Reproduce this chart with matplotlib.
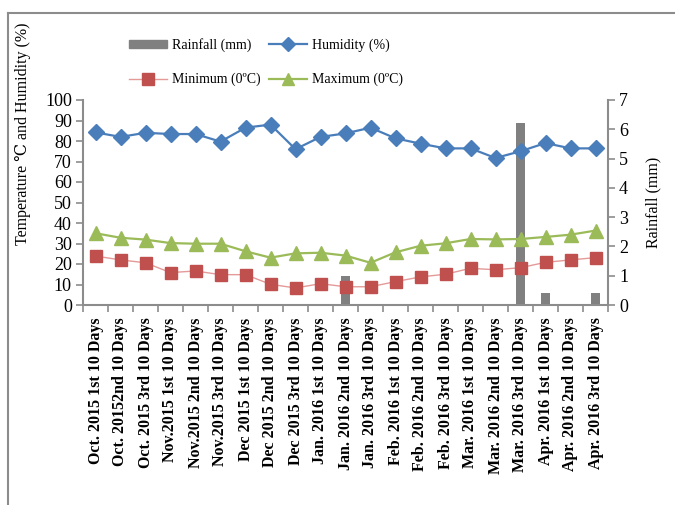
import matplotlib
matplotlib.use("Agg")
import matplotlib.pyplot as plt
from matplotlib.lines import Line2D
import numpy as np

categories = ["Oct. 2015 1st 10 Days", "Oct. 20152nd 10 Days", "Oct. 2015 3rd 10 Days",
              "Nov.2015 1st 10 Days", "Nov.2015 2nd 10 Days", "Nov.2015 3rd 10 Days",
              "Dec 2015 1st 10 Days", "Dec 2015 2nd 10 Days", "Dec 2015 3rd 10 Days",
              "Jan. 2016 1st 10 Days", "Jan. 2016 2nd 10 Days", "Jan. 2016 3rd 10 Days",
              "Feb. 2016 1st 10 Days", "Feb. 2016 2nd 10 Days", "Feb. 2016 3rd 10 Days",
              "Mar. 2016 1st 10 Days", "Mar. 2016 2nd 10 Days", "Mar. 2016 3rd 10 Days",
              "Apr. 2016 1st 10 Days", "Apr. 2016 2nd 10 Days", "Apr. 2016 3rd 10 Days"]
humidity = [84.2, 82, 84, 83.4, 83.4, 79.7, 86.5, 88, 76, 82, 83.7,
            86.5, 81.3, 78.7, 76.4, 76.4, 71.7, 75, 79, 76.4, 76.4]
maximum = [35, 32.8, 31.9, 30.2, 29.9, 29.9, 26.2, 23.1, 25.2, 25.5, 24.1,
           20.6, 25.7, 28.9, 30.1, 32.2, 32.0, 32.2, 33.2, 34.3, 36.3]
minimum = [23.9, 22, 20.6, 15.8, 16.6, 14.8, 14.8, 10.1, 8.3, 10.4, 8.9,
           8.9, 11.4, 13.7, 15, 17.9, 17.2, 18.2, 20.8, 22, 23.1]
rainfall = [0, 0, 0, 0, 0, 0, 0, 0, 0, 0, 1.0,
            0, 0, 0, 0, 0, 0, 6.2, 0.4, 0, 0.4]

serif = ["Liberation Serif", "DejaVu Serif"]
plt.rcParams["font.family"] = serif

fig = plt.figure(figsize=(6.75, 5.05), dpi=100)
ax = fig.add_axes([83/675, 1-305/505, 525/675, 205/505])
ax2 = ax.twinx()

x = np.arange(len(categories))
spine_c = "#8c8c8c"

ax2.bar(x, rainfall, width=0.38, color="#808080", zorder=1)
ax2.set_ylim(0, 7)
ax2.set_yticks(range(0, 8))

ax.set_zorder(ax2.get_zorder() + 1)
ax.patch.set_visible(False)

ax.plot(x, humidity, color="#4A7EBB", lw=1.6, marker="D", ms=8.5,
        mfc="#4A7EBB", mec="#4A7EBB")
ax.plot(x, minimum, color="#E39A98", lw=1.0, marker="s", ms=8,
        mfc="#C0504D", mec="#C0504D")
ax.plot(x, maximum, color="#9BBB59", lw=1.6, marker="^", ms=10,
        mfc="#9BBB59", mec="#9BBB59")

ax.set_xlim(-0.5, len(categories) - 0.5)
ax.set_ylim(0, 100)
ax.set_yticks(range(0, 101, 10))

ax.set_xticks(x)
ax.set_xticklabels(categories, rotation=90, fontweight="bold", fontsize=11.5)
ax.tick_params(axis="x", which="major", length=0, pad=9)
ax.set_xticks(np.arange(-0.5, len(categories), 1), minor=True)
ax.tick_params(axis="x", which="minor", length=5, color=spine_c, width=1.2)
ax.tick_params(axis="y", length=5, color=spine_c, width=1.2, labelsize=13, pad=3)
ax2.tick_params(axis="y", length=5, color=spine_c, width=1.2, labelsize=13, pad=3)

for a in (ax, ax2):
    a.spines["top"].set_visible(False)
    for s in ("left", "right", "bottom"):
        a.spines[s].set_color(spine_c)
        a.spines[s].set_linewidth(1.5)
ax.spines["right"].set_visible(False)
ax2.spines["left"].set_visible(False)
ax2.spines["bottom"].set_visible(False)

ax.set_ylabel("Temperature \u2103 and Humidity (%)", fontsize=11.5)
ax.yaxis.set_label_coords(-52/525, (305-134)/205)
ax2.set_ylabel("Rainfall (mm)", fontsize=11.5)
ax2.yaxis.set_label_coords(1 + 37/525, 0.5)

handles = [
    plt.Rectangle((0, 0), 1, 1, color="#808080"),
    Line2D([], [], color="#E39A98", lw=1.0, marker="s", ms=8, mfc="#C0504D", mec="#C0504D"),
    Line2D([], [], color="#4A7EBB", lw=1.6, marker="D", ms=7, mfc="#4A7EBB", mec="#4A7EBB"),
    Line2D([], [], color="#9BBB59", lw=1.6, marker="^", ms=9, mfc="#9BBB59", mec="#9BBB59"),
]
labels = ["Rainfall (mm)", "Minimum (0\u00baC)", "Humidity (%)", "Maximum (0\u00baC)"]
leg = fig.legend(handles, labels, ncol=2, loc="center", bbox_to_anchor=(266/675, 1-62/505),
                 frameon=False, fontsize=10, handlelength=2.75, handleheight=0.5,
                 handletextpad=0.35, columnspacing=0.6, labelspacing=1.5)

# outer frame
fig.add_artist(Line2D([8/675, 8/675], [0, 1-13/505], transform=fig.transFigure,
                      color="#8c8c8c", lw=1.5))
fig.add_artist(Line2D([8/675, 1], [1-13/505, 1-13/505], transform=fig.transFigure,
                      color="#8c8c8c", lw=1.5))

fig.savefig("out.png", dpi=100)
